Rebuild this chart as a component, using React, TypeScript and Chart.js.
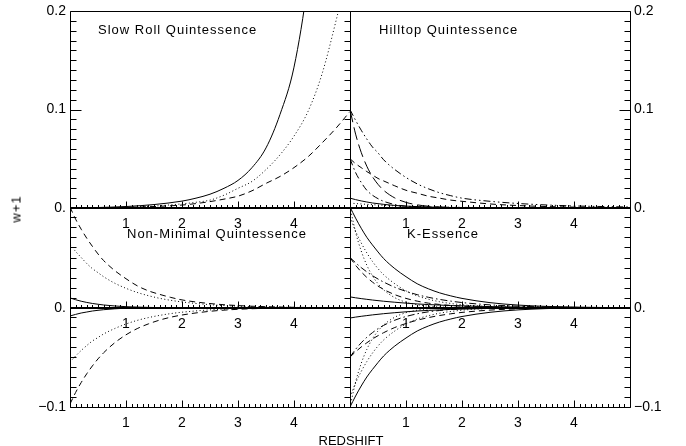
import React, { useEffect, useRef } from 'react';
import { Chart, registerables } from 'chart.js';

Chart.register(...registerables);

// ---------------- data ----------------
const redshiftSlowRoll = [0, 0.5, 1, 1.5, 2, 2.25, 2.5, 2.75, 3, 3.25, 3.5, 3.75, 4, 4.25, 4.5, 4.75, 5];
const slowRollSolid = [0, 0.0005, 0.0015, 0.0035, 0.007, 0.01, 0.014, 0.02, 0.028, 0.041, 0.061, 0.095, 0.143, 0.23, 0.36, 0.56, 0.85];
const slowRollDotted = [0, 0.0003, 0.0008, 0.002, 0.0042, 0.0058, 0.008, 0.013, 0.02, 0.027, 0.039, 0.054, 0.073, 0.098, 0.136, 0.19, 0.25];
const slowRollDashed = [0, 0.0002, 0.0006, 0.0015, 0.003, 0.0045, 0.0065, 0.009, 0.012, 0.0175, 0.025, 0.032, 0.041, 0.052, 0.066, 0.081, 0.098];

const redshift = [0, 0.1, 0.2, 0.3, 0.4, 0.5, 0.6, 0.8, 1.0, 1.2, 1.4, 1.6, 1.8, 2.0, 2.5, 3.0, 3.5, 4.0, 4.5, 5.0];

const hilltopDashDotDot = [0.1, 0.089, 0.079, 0.07, 0.062, 0.056, 0.049, 0.039, 0.031, 0.0245, 0.0195, 0.0155, 0.0125, 0.01, 0.0068, 0.0046, 0.0031, 0.0021, 0.0015, 0.001];
const hilltopLongDash = [0.1, 0.075, 0.0565, 0.0424, 0.0319, 0.024, 0.018, 0.0102, 0.0057, 0.0032, 0.0018, 0.001, 0.0006, 0.0003, 0.0001, 0, 0, 0, 0, 0];
const hilltopDashed = [0.05, 0.045, 0.041, 0.037, 0.0335, 0.03, 0.0275, 0.0225, 0.018, 0.015, 0.012, 0.01, 0.008, 0.0068, 0.0041, 0.0025, 0.0015, 0.0009, 0.0006, 0.0003];
const hilltopDashDot = [0.05, 0.036, 0.026, 0.018, 0.013, 0.0095, 0.0068, 0.0035, 0.0018, 0.0009, 0.0005, 0.0002, 0.0001, 0, 0, 0, 0, 0, 0, 0];
const hilltopSolid = [0.01, 0.0085, 0.0072, 0.0061, 0.0051, 0.0044, 0.0037, 0.0026, 0.0019, 0.0014, 0.001, 0.0007, 0.0005, 0.0004, 0.0002, 0.0001, 0, 0, 0, 0];
const hilltopDotted = [0.005, 0.0045, 0.0041, 0.0037, 0.0034, 0.003, 0.0027, 0.0022, 0.0018, 0.0015, 0.0012, 0.001, 0.0008, 0.0007, 0.0004, 0.0002, 0.0001, 0.0001, 0, 0];

const nonMinDashedUp = [0.1, 0.088, 0.078, 0.069, 0.061, 0.0535, 0.047, 0.037, 0.029, 0.022, 0.017, 0.0135, 0.0105, 0.008, 0.0044, 0.0024, 0.0013, 0.0007, 0.0004, 0.0002];
const nonMinDottedUp = [0.063, 0.056, 0.05, 0.044, 0.039, 0.035, 0.031, 0.0245, 0.0195, 0.0154, 0.0122, 0.0096, 0.0076, 0.006, 0.0033, 0.0018, 0.001, 0.0006, 0.0003, 0.0002];
const nonMinSolidUp = [0.01, 0.0082, 0.0067, 0.0055, 0.0045, 0.0037, 0.003, 0.002, 0.0013, 0.0009, 0.0006, 0.0004, 0.0003, 0.0002, 0.0001, 0, 0, 0, 0, 0];
const nonMinSolidDown = [-0.009, -0.0074, -0.006, -0.005, -0.004, -0.0033, -0.0027, -0.0018, -0.0012, -0.0008, -0.0005, -0.0004, -0.0002, -0.0002, -0.0001, 0, 0, 0, 0, 0];
const nonMinDottedDown = [-0.055, -0.049, -0.0435, -0.0385, -0.034, -0.0305, -0.027, -0.0215, -0.017, -0.0134, -0.0106, -0.0084, -0.0066, -0.0052, -0.0029, -0.0016, -0.0009, -0.0005, -0.0003, -0.0002];
const nonMinDashedDown = [-0.097, -0.0855, -0.0755, -0.0667, -0.0589, -0.0519, -0.0458, -0.0357, -0.0278, -0.0216, -0.0169, -0.0131, -0.0102, -0.008, -0.0043, -0.0023, -0.0013, -0.0007, -0.0004, -0.0002];

const kEssSolidUp = [0.1, 0.089, 0.079, 0.07, 0.0625, 0.0555, 0.049, 0.039, 0.031, 0.024, 0.019, 0.015, 0.012, 0.0095, 0.0053, 0.0029, 0.0016, 0.0009, 0.0005, 0.0003];
const kEssDottedUpA = [0.1, 0.075, 0.0565, 0.0424, 0.0319, 0.024, 0.018, 0.0102, 0.0057, 0.0032, 0.0018, 0.001, 0.0006, 0.0003, 0.0001, 0, 0, 0, 0, 0];
const kEssDottedUpB = [0.09, 0.076, 0.0645, 0.0546, 0.0462, 0.039, 0.033, 0.024, 0.017, 0.012, 0.0087, 0.0062, 0.0045, 0.0032, 0.0014, 0.0006, 0.0003, 0.0001, 0, 0];
const kEssDashDotUp = [0.05, 0.0448, 0.04, 0.0358, 0.032, 0.0287, 0.0257, 0.0205, 0.0165, 0.0132, 0.0106, 0.0085, 0.0068, 0.0054, 0.0031, 0.0018, 0.001, 0.0006, 0.0004, 0.0002];
const kEssDashedUp = [0.05, 0.0423, 0.0358, 0.0303, 0.0257, 0.0217, 0.0184, 0.0132, 0.0095, 0.0068, 0.0048, 0.0035, 0.0025, 0.0018, 0.0008, 0.0003, 0.0002, 0.0001, 0, 0];
const kEssSolidSmallUp = [0.011, 0.0101, 0.0093, 0.0086, 0.0079, 0.0073, 0.0067, 0.0057, 0.0048, 0.004, 0.0034, 0.0029, 0.0024, 0.0021, 0.0014, 0.0009, 0.0006, 0.0004, 0.0002, 0.0002];
const kEssSolidDown = [-0.1, -0.089, -0.079, -0.07, -0.0625, -0.0555, -0.049, -0.039, -0.031, -0.024, -0.019, -0.015, -0.012, -0.0095, -0.0053, -0.0029, -0.0016, -0.0009, -0.0005, -0.0003];
const kEssDottedDownA = [-0.1, -0.075, -0.0565, -0.0424, -0.0319, -0.024, -0.018, -0.0102, -0.0057, -0.0032, -0.0018, -0.001, -0.0006, -0.0003, -0.0001, 0, 0, 0, 0, 0];
const kEssDottedDownB = [-0.09, -0.076, -0.0645, -0.0546, -0.0462, -0.039, -0.033, -0.024, -0.017, -0.012, -0.0087, -0.0062, -0.0045, -0.0032, -0.0014, -0.0006, -0.0003, -0.0001, 0, 0];
const kEssDashDotDown = [-0.05, -0.0423, -0.0358, -0.0303, -0.0257, -0.0217, -0.0184, -0.0132, -0.0095, -0.0068, -0.0048, -0.0035, -0.0025, -0.0018, -0.0008, -0.0003, -0.0002, -0.0001, 0, 0];
const kEssDashedDown = [-0.05, -0.0448, -0.04, -0.0358, -0.032, -0.0287, -0.0257, -0.0205, -0.0165, -0.0132, -0.0106, -0.0085, -0.0068, -0.0054, -0.0031, -0.0018, -0.001, -0.0006, -0.0004, -0.0002];
const kEssSolidSmallDown = [-0.011, -0.0101, -0.0093, -0.0086, -0.0079, -0.0073, -0.0067, -0.0057, -0.0048, -0.004, -0.0034, -0.0029, -0.0024, -0.0021, -0.0014, -0.0009, -0.0006, -0.0004, -0.0002, -0.0002];

const xTickValues = [0, 1, 2, 3, 4, 5];
const xTickLabels = ['', '1', '2', '3', '4', ''];
const yTopTickValues = [0, 0.1, 0.2];
const yTopTickLabels = ['0.', '0.1', '0.2'];
const yMidTickValues = [0, 0.1];
const yMidTickLabels = ['0.', ''];
const yLowTickValues = [-0.1, 0];
const yLowTickLabels = ['\u22120.1', ''];

const panelTitles = ['Slow Roll Quintessence', 'Hilltop Quintessence', 'Non-Minimal Quintessence', 'K-Essence'];
const xAxisTitle = 'REDSHIFT';
const yAxisTitle = 'w+1';

// ---------------- styles / layout ----------------
const W = 686;
const H = 446;
const FONT = '"Liberation Sans", Arial, Helvetica, sans-serif';
const Y_AXIS_W = 60;
const X_AXIS_H = 30;
const COLS = { left: { l: 70, r: 350 }, right: { l: 350, r: 630 } };
const ROWS = { top: { t: 8, b: 208 }, mid: { t: 207, b: 308 }, low: { t: 307, b: 407 } };

const SOLID: number[] = [];
const DOT = [1, 2.5];
const DASH = [6, 4];
const LONG = [13, 5];
const DASHDOT = [7, 3, 1.5, 3];
const DASHDOTDOT = [7, 3, 1.5, 3, 1.5, 3];

type Series = { ys: number[]; dash: number[] };
type PanelCfg = {
  col: 'left' | 'right';
  row: 'top' | 'mid' | 'low';
  xs: number[];
  series: Series[];
  yMin: number;
  yMax: number;
  yVals: number[];
  yLabels: string[];
};

const lookup = (vals: number[], labels: string[], v: number) => {
  const i = vals.findIndex((t) => Math.abs(t - v) < 1e-9);
  return i >= 0 ? labels[i] : '';
};

const frameTicks = {
  id: 'frameTicks',
  afterDatasetsDraw(chart: any, _args: any, opts: any) {
    const { ctx, chartArea: a, scales } = chart;
    const xs = scales.x;
    const ys = scales.y;
    ctx.save();
    ctx.strokeStyle = '#000';
    ctx.lineWidth = 1;
    ctx.beginPath();
    ctx.rect(a.left + 0.5, a.top + 0.5, a.right - a.left, a.bottom - a.top);
    ctx.stroke();
    ctx.beginPath();
    // x ticks along the bottom edge, pointing inward
    for (let i = 0; i <= 50; i++) {
      const px = Math.round(xs.getPixelForValue(i / 10)) + 0.5;
      const len = i % 10 === 0 ? 7 : 3.5;
      ctx.moveTo(px, a.bottom + 0.5);
      ctx.lineTo(px, a.bottom + 0.5 - len);
    }
    const j0 = Math.round(ys.min * 100);
    const j1 = Math.round(ys.max * 100);
    for (let j = j0; j <= j1; j++) {
      const py = Math.round(ys.getPixelForValue(j / 100)) + 0.5;
      const len = j % 10 === 0 ? 11 : 6;
      if (opts.left) {
        ctx.moveTo(a.left + 0.5, py);
        ctx.lineTo(a.left + 0.5 + len, py);
      }
      if (opts.right) {
        ctx.moveTo(a.right + 0.5, py);
        ctx.lineTo(a.right + 0.5 - len, py);
      }
    }
    ctx.stroke();
    ctx.restore();
  },
};

function buildConfig(p: PanelCfg): any {
  const isLeft = p.col === 'left';
  const c = COLS[p.col];
  const r = ROWS[p.row];
  const padding = {
    left: isLeft ? c.l - Y_AXIS_W : c.l,
    right: isLeft ? W - c.r : W - c.r - Y_AXIS_W,
    top: r.t,
    bottom: H - r.b - X_AXIS_H,
  };
  return {
    type: 'line',
    data: {
      datasets: p.series.map((s) => ({
        data: p.xs.map((x, i) => ({ x, y: s.ys[i] })),
        borderColor: '#000',
        borderWidth: 1,
        borderDash: s.dash,
        pointRadius: 0,
        fill: false,
        cubicInterpolationMode: 'monotone',
        clip: 0,
      })),
    },
    options: {
      animation: false,
      responsive: false,
      maintainAspectRatio: false,
      events: [],
      layout: { padding },
      plugins: {
        legend: { display: false },
        tooltip: { enabled: false },
        frameTicks: { left: isLeft, right: true },
      },
      scales: {
        x: {
          type: 'linear',
          min: 0,
          max: 5,
          position: 'bottom',
          afterFit: (s: any) => {
            s.height = X_AXIS_H;
          },
          afterBuildTicks: (s: any) => {
            s.ticks = xTickValues.map((v) => ({ value: v }));
          },
          grid: { display: false, drawTicks: false },
          border: { display: false },
          ticks: {
            autoSkip: false,
            maxRotation: 0,
            padding: 9,
            color: '#000',
            font: { family: FONT, size: 14, lineHeight: 1 },
            callback: (v: number) => lookup(xTickValues, xTickLabels, v),
          },
        },
        y: {
          type: 'linear',
          min: p.yMin,
          max: p.yMax,
          position: isLeft ? 'left' : 'right',
          afterFit: (s: any) => {
            s.width = Y_AXIS_W;
          },
          afterBuildTicks: (s: any) => {
            s.ticks = p.yVals.map((v) => ({ value: v }));
          },
          grid: { display: false, drawTicks: false },
          border: { display: false },
          ticks: {
            autoSkip: false,
            padding: 4,
            color: '#000',
            font: { family: FONT, size: 14, lineHeight: 1 },
            callback: (v: number) => lookup(p.yVals, p.yLabels, v),
          },
        },
      },
    },
    plugins: [frameTicks],
  };
}

const panels: PanelCfg[] = [
  {
    col: 'left', row: 'top', xs: redshiftSlowRoll, yMin: 0, yMax: 0.2, yVals: yTopTickValues, yLabels: yTopTickLabels,
    series: [
      { ys: slowRollSolid, dash: SOLID },
      { ys: slowRollDotted, dash: DOT },
      { ys: slowRollDashed, dash: DASH },
    ],
  },
  {
    col: 'right', row: 'top', xs: redshift, yMin: 0, yMax: 0.2, yVals: yTopTickValues, yLabels: yTopTickLabels,
    series: [
      { ys: hilltopDashDotDot, dash: DASHDOTDOT },
      { ys: hilltopLongDash, dash: LONG },
      { ys: hilltopDashed, dash: DASH },
      { ys: hilltopDashDot, dash: DASHDOT },
      { ys: hilltopSolid, dash: SOLID },
      { ys: hilltopDotted, dash: DOT },
    ],
  },
  {
    col: 'left', row: 'mid', xs: redshift, yMin: 0, yMax: 0.1, yVals: yMidTickValues, yLabels: yMidTickLabels,
    series: [
      { ys: nonMinDashedUp, dash: DASH },
      { ys: nonMinDottedUp, dash: DOT },
      { ys: nonMinSolidUp, dash: SOLID },
    ],
  },
  {
    col: 'left', row: 'low', xs: redshift, yMin: -0.1, yMax: 0, yVals: yLowTickValues, yLabels: yLowTickLabels,
    series: [
      { ys: nonMinSolidDown, dash: SOLID },
      { ys: nonMinDottedDown, dash: DOT },
      { ys: nonMinDashedDown, dash: DASH },
    ],
  },
  {
    col: 'right', row: 'mid', xs: redshift, yMin: 0, yMax: 0.1, yVals: yMidTickValues, yLabels: yMidTickLabels,
    series: [
      { ys: kEssSolidUp, dash: SOLID },
      { ys: kEssDottedUpA, dash: DOT },
      { ys: kEssDottedUpB, dash: DOT },
      { ys: kEssDashDotUp, dash: DASHDOT },
      { ys: kEssDashedUp, dash: DASH },
      { ys: kEssSolidSmallUp, dash: SOLID },
    ],
  },
  {
    col: 'right', row: 'low', xs: redshift, yMin: -0.1, yMax: 0, yVals: yLowTickValues, yLabels: yLowTickLabels,
    series: [
      { ys: kEssSolidDown, dash: SOLID },
      { ys: kEssDottedDownA, dash: DOT },
      { ys: kEssDottedDownB, dash: DOT },
      { ys: kEssDashDotDown, dash: DASHDOT },
      { ys: kEssDashedDown, dash: DASH },
      { ys: kEssSolidSmallDown, dash: SOLID },
    ],
  },
];

function Panel({ cfg }: { cfg: PanelCfg }) {
  const ref = useRef<HTMLCanvasElement>(null);
  useEffect(() => {
    if (!ref.current) return;
    const chart = new Chart(ref.current, buildConfig(cfg));
    return () => chart.destroy();
  }, [cfg]);
  return (
    <canvas
      ref={ref}
      width={W}
      height={H}
      style={{ position: 'absolute', left: 0, top: 0, width: W, height: H, pointerEvents: 'none' }}
    />
  );
}

const textBase: React.CSSProperties = {
  position: 'absolute',
  fontFamily: FONT,
  fontSize: 13,
  lineHeight: '13px',
  color: '#000',
  whiteSpace: 'nowrap',
};

export default function App() {
  return (
    <div style={{ position: 'fixed', left: 0, top: 0, width: W, height: H, background: '#fff', overflow: 'hidden' }}>
      {panels.map((p, i) => (
        <Panel key={i} cfg={p} />
      ))}
      <div style={{ ...textBase, left: 98, top: 23, letterSpacing: '1px' }}>{panelTitles[0]}</div>
      <div style={{ ...textBase, left: 379, top: 23, letterSpacing: '1px' }}>{panelTitles[1]}</div>
      <div style={{ ...textBase, left: 127, top: 227, letterSpacing: '1px' }}>{panelTitles[2]}</div>
      <div style={{ ...textBase, left: 407, top: 227, letterSpacing: '1px' }}>{panelTitles[3]}</div>
      <div style={{ ...textBase, left: 351, top: 434, transform: 'translateX(-50%)' }}>{xAxisTitle}</div>
      <div
        style={{
          ...textBase,
          left: 16,
          top: 209,
          transform: 'translate(-50%, -50%) rotate(-90deg)',
          letterSpacing: '1px',
        }}
      >
        {yAxisTitle}
      </div>
    </div>
  );
}
